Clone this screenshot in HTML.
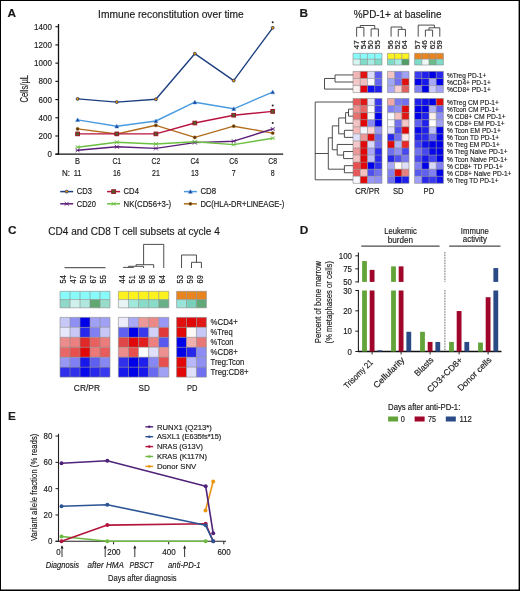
<!DOCTYPE html>
<html><head><meta charset="utf-8"><style>
html,body{margin:0;padding:0;background:#fff;}
svg{display:block;will-change:transform;}
text{font-family:"Liberation Sans",sans-serif;fill:#1a1a1a;stroke:#1a1a1a;stroke-width:0.16px;}
</style></head><body>
<svg width="520" height="591" viewBox="0 0 520 591">
<rect x="0" y="0" width="520" height="591" fill="#fff"/>
<text x="7.60" y="17.40" font-size="11.8" font-weight="bold" fill="#000">A</text>
<text x="299.60" y="17.40" font-size="11.8" font-weight="bold" fill="#000">B</text>
<text x="8.00" y="234.20" font-size="11.8" font-weight="bold" fill="#000">C</text>
<text x="299.80" y="234.20" font-size="11.8" font-weight="bold" fill="#000">D</text>
<text x="7.90" y="420.00" font-size="11.8" font-weight="bold" fill="#000">E</text>
<line x1="58.50" y1="24.00" x2="58.50" y2="154.80" stroke="#111" stroke-width="1.3" />
<line x1="55.40" y1="154.20" x2="283.20" y2="154.20" stroke="#111" stroke-width="1.3" />
<line x1="55.40" y1="154.20" x2="58.50" y2="154.20" stroke="#111" stroke-width="1.1" />
<text x="51.90" y="157.30" font-size="9.2" text-anchor="end" textLength="4.45" lengthAdjust="spacingAndGlyphs">0</text>
<line x1="55.40" y1="135.99" x2="58.50" y2="135.99" stroke="#111" stroke-width="1.1" />
<text x="51.90" y="139.09" font-size="9.2" text-anchor="end" textLength="13.35" lengthAdjust="spacingAndGlyphs">200</text>
<line x1="55.40" y1="117.77" x2="58.50" y2="117.77" stroke="#111" stroke-width="1.1" />
<text x="51.90" y="120.87" font-size="9.2" text-anchor="end" textLength="13.35" lengthAdjust="spacingAndGlyphs">400</text>
<line x1="55.40" y1="99.56" x2="58.50" y2="99.56" stroke="#111" stroke-width="1.1" />
<text x="51.90" y="102.66" font-size="9.2" text-anchor="end" textLength="13.35" lengthAdjust="spacingAndGlyphs">600</text>
<line x1="55.40" y1="81.34" x2="58.50" y2="81.34" stroke="#111" stroke-width="1.1" />
<text x="51.90" y="84.44" font-size="9.2" text-anchor="end" textLength="13.35" lengthAdjust="spacingAndGlyphs">800</text>
<line x1="55.40" y1="63.13" x2="58.50" y2="63.13" stroke="#111" stroke-width="1.1" />
<text x="51.90" y="66.23" font-size="9.2" text-anchor="end" textLength="17.80" lengthAdjust="spacingAndGlyphs">1000</text>
<line x1="55.40" y1="44.92" x2="58.50" y2="44.92" stroke="#111" stroke-width="1.1" />
<text x="51.90" y="48.02" font-size="9.2" text-anchor="end" textLength="17.80" lengthAdjust="spacingAndGlyphs">1200</text>
<line x1="55.40" y1="26.70" x2="58.50" y2="26.70" stroke="#111" stroke-width="1.1" />
<text x="51.90" y="29.80" font-size="9.2" text-anchor="end" textLength="17.80" lengthAdjust="spacingAndGlyphs">1400</text>
<text x="77.60" y="164.30" font-size="8.8" text-anchor="middle" textLength="5.00" lengthAdjust="spacingAndGlyphs">B</text>
<text x="77.60" y="175.90" font-size="8.8" text-anchor="middle" textLength="7.80" lengthAdjust="spacingAndGlyphs">11</text>
<text x="116.80" y="164.30" font-size="8.8" text-anchor="middle" textLength="8.80" lengthAdjust="spacingAndGlyphs">C1</text>
<text x="116.80" y="175.90" font-size="8.8" text-anchor="middle" textLength="7.80" lengthAdjust="spacingAndGlyphs">16</text>
<text x="155.90" y="164.30" font-size="8.8" text-anchor="middle" textLength="8.80" lengthAdjust="spacingAndGlyphs">C2</text>
<text x="155.90" y="175.90" font-size="8.8" text-anchor="middle" textLength="7.80" lengthAdjust="spacingAndGlyphs">21</text>
<text x="194.80" y="164.30" font-size="8.8" text-anchor="middle" textLength="8.80" lengthAdjust="spacingAndGlyphs">C4</text>
<text x="194.80" y="175.90" font-size="8.8" text-anchor="middle" textLength="7.80" lengthAdjust="spacingAndGlyphs">13</text>
<text x="233.70" y="164.30" font-size="8.8" text-anchor="middle" textLength="8.80" lengthAdjust="spacingAndGlyphs">C6</text>
<text x="233.70" y="175.90" font-size="8.8" text-anchor="middle" textLength="3.90" lengthAdjust="spacingAndGlyphs">7</text>
<text x="272.70" y="164.30" font-size="8.8" text-anchor="middle" textLength="8.80" lengthAdjust="spacingAndGlyphs">C8</text>
<text x="272.70" y="175.90" font-size="8.8" text-anchor="middle" textLength="3.90" lengthAdjust="spacingAndGlyphs">8</text>
<text x="62.00" y="175.90" font-size="8.8" textLength="8.00" lengthAdjust="spacingAndGlyphs">N:</text>
<text x="98.10" y="17.80" font-size="10.4" textLength="145.70" lengthAdjust="spacingAndGlyphs">Immune reconstitution over time</text>
<text x="28.20" y="102.60" font-size="10.2" textLength="27.60" lengthAdjust="spacingAndGlyphs" transform="rotate(-90 28.20 102.60)">Cells/µL</text>
<polyline points="77.60,128.90 116.80,134.00 155.90,125.30 194.80,137.40 233.70,126.20 272.70,133.10" fill="none" stroke="#b26e1e" stroke-width="1.4" stroke-linejoin="round" />
<polyline points="77.60,150.30 116.80,146.80 155.90,148.40 194.80,142.60 233.70,141.20 272.70,129.00" fill="none" stroke="#5a1e78" stroke-width="1.4" stroke-linejoin="round" />
<polyline points="77.60,147.20 116.80,142.20 155.90,144.00 194.80,141.70 233.70,144.60 272.70,138.30" fill="none" stroke="#6cbf40" stroke-width="1.4" stroke-linejoin="round" />
<polyline points="77.60,133.90 116.80,133.90 155.90,133.90 194.80,123.00 233.70,115.20 272.70,111.40" fill="none" stroke="#b8143f" stroke-width="1.4" stroke-linejoin="round" />
<polyline points="77.60,119.90 116.80,126.30 155.90,121.00 194.80,102.20 233.70,108.80 272.70,92.10" fill="none" stroke="#4a9ae0" stroke-width="1.4" stroke-linejoin="round" />
<polyline points="77.60,98.90 116.80,102.10 155.90,99.30 194.80,53.70 233.70,80.60 272.70,27.80" fill="none" stroke="#1e3f7f" stroke-width="1.4" stroke-linejoin="round" />
<circle cx="77.60" cy="128.90" r="1.6" fill="#5a3508" stroke="#a86a1e" stroke-width="0.5"/>
<circle cx="116.80" cy="134.00" r="1.6" fill="#5a3508" stroke="#a86a1e" stroke-width="0.5"/>
<circle cx="155.90" cy="125.30" r="1.6" fill="#5a3508" stroke="#a86a1e" stroke-width="0.5"/>
<circle cx="194.80" cy="137.40" r="1.6" fill="#5a3508" stroke="#a86a1e" stroke-width="0.5"/>
<circle cx="233.70" cy="126.20" r="1.6" fill="#5a3508" stroke="#a86a1e" stroke-width="0.5"/>
<circle cx="272.70" cy="133.10" r="1.6" fill="#5a3508" stroke="#a86a1e" stroke-width="0.5"/>
<path d="M75.60,148.30 L79.60,152.30 M75.60,152.30 L79.60,148.30 M75.60,150.30 L79.60,150.30" stroke="#5a1e78" stroke-width="0.8" fill="none"/>
<path d="M114.80,144.80 L118.80,148.80 M114.80,148.80 L118.80,144.80 M114.80,146.80 L118.80,146.80" stroke="#5a1e78" stroke-width="0.8" fill="none"/>
<path d="M153.90,146.40 L157.90,150.40 M153.90,150.40 L157.90,146.40 M153.90,148.40 L157.90,148.40" stroke="#5a1e78" stroke-width="0.8" fill="none"/>
<path d="M192.80,140.60 L196.80,144.60 M192.80,144.60 L196.80,140.60 M192.80,142.60 L196.80,142.60" stroke="#5a1e78" stroke-width="0.8" fill="none"/>
<path d="M231.70,139.20 L235.70,143.20 M231.70,143.20 L235.70,139.20 M231.70,141.20 L235.70,141.20" stroke="#5a1e78" stroke-width="0.8" fill="none"/>
<path d="M270.70,127.00 L274.70,131.00 M270.70,131.00 L274.70,127.00 M270.70,129.00 L274.70,129.00" stroke="#5a1e78" stroke-width="0.8" fill="none"/>
<path d="M75.60,145.20 L79.60,149.20 M75.60,149.20 L79.60,145.20 M75.60,147.20 L79.60,147.20" stroke="#6cbf40" stroke-width="0.8" fill="none"/>
<path d="M114.80,140.20 L118.80,144.20 M114.80,144.20 L118.80,140.20 M114.80,142.20 L118.80,142.20" stroke="#6cbf40" stroke-width="0.8" fill="none"/>
<path d="M153.90,142.00 L157.90,146.00 M153.90,146.00 L157.90,142.00 M153.90,144.00 L157.90,144.00" stroke="#6cbf40" stroke-width="0.8" fill="none"/>
<path d="M192.80,139.70 L196.80,143.70 M192.80,143.70 L196.80,139.70 M192.80,141.70 L196.80,141.70" stroke="#6cbf40" stroke-width="0.8" fill="none"/>
<path d="M231.70,142.60 L235.70,146.60 M231.70,146.60 L235.70,142.60 M231.70,144.60 L235.70,144.60" stroke="#6cbf40" stroke-width="0.8" fill="none"/>
<path d="M270.70,136.30 L274.70,140.30 M270.70,140.30 L274.70,136.30 M270.70,138.30 L274.70,138.30" stroke="#6cbf40" stroke-width="0.8" fill="none"/>
<rect x="75.70" y="132.05" width="3.80" height="3.70" fill="#4f5f26" stroke="#9c0a26" stroke-width="0.9"/>
<rect x="114.90" y="132.05" width="3.80" height="3.70" fill="#4f5f26" stroke="#9c0a26" stroke-width="0.9"/>
<rect x="154.00" y="132.05" width="3.80" height="3.70" fill="#4f5f26" stroke="#9c0a26" stroke-width="0.9"/>
<rect x="192.90" y="121.15" width="3.80" height="3.70" fill="#4f5f26" stroke="#9c0a26" stroke-width="0.9"/>
<rect x="231.80" y="113.35" width="3.80" height="3.70" fill="#4f5f26" stroke="#9c0a26" stroke-width="0.9"/>
<rect x="270.80" y="109.55" width="3.80" height="3.70" fill="#4f5f26" stroke="#9c0a26" stroke-width="0.9"/>
<path d="M75.60,121.60 L77.60,117.90 L79.60,121.60Z" fill="#1f3f90" stroke="#3d8fe0" stroke-width="0.5"/>
<path d="M114.80,128.00 L116.80,124.30 L118.80,128.00Z" fill="#1f3f90" stroke="#3d8fe0" stroke-width="0.5"/>
<path d="M153.90,122.70 L155.90,119.00 L157.90,122.70Z" fill="#1f3f90" stroke="#3d8fe0" stroke-width="0.5"/>
<path d="M192.80,103.90 L194.80,100.20 L196.80,103.90Z" fill="#1f3f90" stroke="#3d8fe0" stroke-width="0.5"/>
<path d="M231.70,110.50 L233.70,106.80 L235.70,110.50Z" fill="#1f3f90" stroke="#3d8fe0" stroke-width="0.5"/>
<path d="M270.70,93.80 L272.70,90.10 L274.70,93.80Z" fill="#1f3f90" stroke="#3d8fe0" stroke-width="0.5"/>
<circle cx="77.60" cy="98.90" r="1.45" fill="#f59b00" stroke="#1e3060" stroke-width="0.8"/>
<circle cx="116.80" cy="102.10" r="1.45" fill="#f59b00" stroke="#1e3060" stroke-width="0.8"/>
<circle cx="155.90" cy="99.30" r="1.45" fill="#f59b00" stroke="#1e3060" stroke-width="0.8"/>
<circle cx="194.80" cy="53.70" r="1.45" fill="#f59b00" stroke="#1e3060" stroke-width="0.8"/>
<circle cx="233.70" cy="80.60" r="1.45" fill="#f59b00" stroke="#1e3060" stroke-width="0.8"/>
<circle cx="272.70" cy="27.80" r="1.45" fill="#f59b00" stroke="#1e3060" stroke-width="0.8"/>
<circle cx="272.7" cy="22.2" r="1.0" fill="#222"/>
<circle cx="272.7" cy="105.5" r="1.0" fill="#222"/>
<circle cx="272.7" cy="122.9" r="1.0" fill="#222"/>
<line x1="60.20" y1="191.60" x2="73.20" y2="191.60" stroke="#1e3f7f" stroke-width="1.5" />
<circle cx="66.70" cy="191.60" r="1.45" fill="#f59b00" stroke="#1e3060" stroke-width="0.8"/>
<text x="76.70" y="194.40" font-size="8.6" textLength="15.20" lengthAdjust="spacingAndGlyphs">CD3</text>
<line x1="107.10" y1="191.60" x2="120.10" y2="191.60" stroke="#b8143f" stroke-width="1.5" />
<rect x="111.70" y="189.75" width="3.80" height="3.70" fill="#4f5f26" stroke="#9c0a26" stroke-width="0.9"/>
<text x="123.60" y="194.40" font-size="8.6" textLength="15.30" lengthAdjust="spacingAndGlyphs">CD4</text>
<line x1="183.90" y1="191.60" x2="196.90" y2="191.60" stroke="#4a9ae0" stroke-width="1.5" />
<path d="M188.40,193.30 L190.40,189.60 L192.40,193.30Z" fill="#1f3f90" stroke="#3d8fe0" stroke-width="0.5"/>
<text x="200.40" y="194.40" font-size="8.6" textLength="15.70" lengthAdjust="spacingAndGlyphs">CD8</text>
<line x1="60.20" y1="203.80" x2="73.20" y2="203.80" stroke="#5a1e78" stroke-width="1.5" />
<path d="M64.70,201.80 L68.70,205.80 M64.70,205.80 L68.70,201.80 M64.70,203.80 L68.70,203.80" stroke="#5a1e78" stroke-width="0.8" fill="none"/>
<text x="76.70" y="206.60" font-size="8.6" textLength="19.30" lengthAdjust="spacingAndGlyphs">CD20</text>
<line x1="107.10" y1="203.80" x2="120.10" y2="203.80" stroke="#6cbf40" stroke-width="1.5" />
<path d="M111.60,201.80 L115.60,205.80 M111.60,205.80 L115.60,201.80 M111.60,203.80 L115.60,203.80" stroke="#6cbf40" stroke-width="0.8" fill="none"/>
<text x="123.60" y="206.60" font-size="8.6" textLength="47.50" lengthAdjust="spacingAndGlyphs">NK(CD56+3-)</text>
<line x1="183.90" y1="203.80" x2="196.90" y2="203.80" stroke="#b26e1e" stroke-width="1.5" />
<circle cx="190.40" cy="203.80" r="1.6" fill="#5a3508" stroke="#a86a1e" stroke-width="0.5"/>
<text x="200.40" y="206.60" font-size="8.6" textLength="84.00" lengthAdjust="spacingAndGlyphs">DC(HLA-DR+LINEAGE-)</text>
<text x="353.80" y="18.10" font-size="10.4" textLength="87.70" lengthAdjust="spacingAndGlyphs">%PD-1+ at baseline</text>
<rect x="353.00" y="53.30" width="7.25" height="5.85" fill="#88fafa"/>
<rect x="360.25" y="53.30" width="7.25" height="5.85" fill="#88fafa"/>
<rect x="367.50" y="53.30" width="7.25" height="5.85" fill="#88fafa"/>
<rect x="374.75" y="53.30" width="7.25" height="5.85" fill="#88fafa"/>
<rect x="353.00" y="59.15" width="7.25" height="5.85" fill="#d8f6f1"/>
<rect x="360.25" y="59.15" width="7.25" height="5.85" fill="#7fdcc8"/>
<rect x="367.50" y="59.15" width="7.25" height="5.85" fill="#a6ece2"/>
<rect x="374.75" y="59.15" width="7.25" height="5.85" fill="#7fdcc8"/>
<line x1="353.00" y1="53.30" x2="382.00" y2="53.30" stroke="#8a8a8a" stroke-width="0.6" />
<line x1="353.00" y1="59.15" x2="382.00" y2="59.15" stroke="#8a8a8a" stroke-width="0.6" />
<line x1="353.00" y1="65.00" x2="382.00" y2="65.00" stroke="#8a8a8a" stroke-width="0.6" />
<line x1="353.00" y1="53.30" x2="353.00" y2="65.00" stroke="#8a8a8a" stroke-width="0.6" />
<line x1="360.25" y1="53.30" x2="360.25" y2="65.00" stroke="#8a8a8a" stroke-width="0.6" />
<line x1="367.50" y1="53.30" x2="367.50" y2="65.00" stroke="#8a8a8a" stroke-width="0.6" />
<line x1="374.75" y1="53.30" x2="374.75" y2="65.00" stroke="#8a8a8a" stroke-width="0.6" />
<line x1="382.00" y1="53.30" x2="382.00" y2="65.00" stroke="#8a8a8a" stroke-width="0.6" />
<rect x="387.50" y="53.30" width="7.17" height="5.85" fill="#fcf21e"/>
<rect x="394.67" y="53.30" width="7.17" height="5.85" fill="#fcf21e"/>
<rect x="401.84" y="53.30" width="7.17" height="5.85" fill="#fcf21e"/>
<rect x="387.50" y="59.15" width="7.17" height="5.85" fill="#7fdcc8"/>
<rect x="394.67" y="59.15" width="7.17" height="5.85" fill="#a6ece2"/>
<rect x="401.84" y="59.15" width="7.17" height="5.85" fill="#4e9f66"/>
<line x1="387.50" y1="53.30" x2="409.01" y2="53.30" stroke="#8a8a8a" stroke-width="0.6" />
<line x1="387.50" y1="59.15" x2="409.01" y2="59.15" stroke="#8a8a8a" stroke-width="0.6" />
<line x1="387.50" y1="65.00" x2="409.01" y2="65.00" stroke="#8a8a8a" stroke-width="0.6" />
<line x1="387.50" y1="53.30" x2="387.50" y2="65.00" stroke="#8a8a8a" stroke-width="0.6" />
<line x1="394.67" y1="53.30" x2="394.67" y2="65.00" stroke="#8a8a8a" stroke-width="0.6" />
<line x1="401.84" y1="53.30" x2="401.84" y2="65.00" stroke="#8a8a8a" stroke-width="0.6" />
<line x1="409.01" y1="53.30" x2="409.01" y2="65.00" stroke="#8a8a8a" stroke-width="0.6" />
<rect x="414.60" y="53.30" width="7.20" height="5.85" fill="#e8841f"/>
<rect x="421.80" y="53.30" width="7.20" height="5.85" fill="#e8841f"/>
<rect x="429.00" y="53.30" width="7.20" height="5.85" fill="#e8841f"/>
<rect x="436.20" y="53.30" width="7.20" height="5.85" fill="#e8841f"/>
<rect x="414.60" y="59.15" width="7.20" height="5.85" fill="#7fdcc8"/>
<rect x="421.80" y="59.15" width="7.20" height="5.85" fill="#eef8f6"/>
<rect x="429.00" y="59.15" width="7.20" height="5.85" fill="#6cb98a"/>
<rect x="436.20" y="59.15" width="7.20" height="5.85" fill="#7fdcc8"/>
<line x1="414.60" y1="53.30" x2="443.40" y2="53.30" stroke="#8a8a8a" stroke-width="0.6" />
<line x1="414.60" y1="59.15" x2="443.40" y2="59.15" stroke="#8a8a8a" stroke-width="0.6" />
<line x1="414.60" y1="65.00" x2="443.40" y2="65.00" stroke="#8a8a8a" stroke-width="0.6" />
<line x1="414.60" y1="53.30" x2="414.60" y2="65.00" stroke="#8a8a8a" stroke-width="0.6" />
<line x1="421.80" y1="53.30" x2="421.80" y2="65.00" stroke="#8a8a8a" stroke-width="0.6" />
<line x1="429.00" y1="53.30" x2="429.00" y2="65.00" stroke="#8a8a8a" stroke-width="0.6" />
<line x1="436.20" y1="53.30" x2="436.20" y2="65.00" stroke="#8a8a8a" stroke-width="0.6" />
<line x1="443.40" y1="53.30" x2="443.40" y2="65.00" stroke="#8a8a8a" stroke-width="0.6" />
<rect x="353.00" y="71.40" width="7.25" height="7.07" fill="#f0b6b6"/>
<rect x="360.25" y="71.40" width="7.25" height="7.07" fill="#e01212"/>
<rect x="367.50" y="71.40" width="7.25" height="7.07" fill="#dcdcf8"/>
<rect x="374.75" y="71.40" width="7.25" height="7.07" fill="#5a5af0"/>
<rect x="353.00" y="78.47" width="7.25" height="7.07" fill="#f4c8c8"/>
<rect x="360.25" y="78.47" width="7.25" height="7.07" fill="#f0c0c0"/>
<rect x="367.50" y="78.47" width="7.25" height="7.07" fill="#f8f8ff"/>
<rect x="374.75" y="78.47" width="7.25" height="7.07" fill="#6464f0"/>
<rect x="353.00" y="85.54" width="7.25" height="7.07" fill="#fcf0f0"/>
<rect x="360.25" y="85.54" width="7.25" height="7.07" fill="#e00010"/>
<rect x="367.50" y="85.54" width="7.25" height="7.07" fill="#1010f0"/>
<rect x="374.75" y="85.54" width="7.25" height="7.07" fill="#2020f0"/>
<line x1="353.00" y1="71.40" x2="382.00" y2="71.40" stroke="#8a8a8a" stroke-width="0.6" />
<line x1="353.00" y1="78.47" x2="382.00" y2="78.47" stroke="#8a8a8a" stroke-width="0.6" />
<line x1="353.00" y1="85.54" x2="382.00" y2="85.54" stroke="#8a8a8a" stroke-width="0.6" />
<line x1="353.00" y1="92.61" x2="382.00" y2="92.61" stroke="#8a8a8a" stroke-width="0.6" />
<line x1="353.00" y1="71.40" x2="353.00" y2="92.61" stroke="#8a8a8a" stroke-width="0.6" />
<line x1="360.25" y1="71.40" x2="360.25" y2="92.61" stroke="#8a8a8a" stroke-width="0.6" />
<line x1="367.50" y1="71.40" x2="367.50" y2="92.61" stroke="#8a8a8a" stroke-width="0.6" />
<line x1="374.75" y1="71.40" x2="374.75" y2="92.61" stroke="#8a8a8a" stroke-width="0.6" />
<line x1="382.00" y1="71.40" x2="382.00" y2="92.61" stroke="#8a8a8a" stroke-width="0.6" />
<rect x="353.00" y="98.50" width="7.25" height="7.07" fill="#e85858"/>
<rect x="360.25" y="98.50" width="7.25" height="7.07" fill="#e01818"/>
<rect x="367.50" y="98.50" width="7.25" height="7.07" fill="#e4e4fa"/>
<rect x="374.75" y="98.50" width="7.25" height="7.07" fill="#3838f0"/>
<rect x="353.00" y="105.57" width="7.25" height="7.07" fill="#ec9090"/>
<rect x="360.25" y="105.57" width="7.25" height="7.07" fill="#e86868"/>
<rect x="367.50" y="105.57" width="7.25" height="7.07" fill="#fafaff"/>
<rect x="374.75" y="105.57" width="7.25" height="7.07" fill="#3030f0"/>
<rect x="353.00" y="112.64" width="7.25" height="7.07" fill="#e87070"/>
<rect x="360.25" y="112.64" width="7.25" height="7.07" fill="#e00808"/>
<rect x="367.50" y="112.64" width="7.25" height="7.07" fill="#f4f4ff"/>
<rect x="374.75" y="112.64" width="7.25" height="7.07" fill="#0000ec"/>
<rect x="353.00" y="119.71" width="7.25" height="7.07" fill="#f4c4c4"/>
<rect x="360.25" y="119.71" width="7.25" height="7.07" fill="#e00808"/>
<rect x="367.50" y="119.71" width="7.25" height="7.07" fill="#8888f4"/>
<rect x="374.75" y="119.71" width="7.25" height="7.07" fill="#0000e8"/>
<rect x="353.00" y="126.78" width="7.25" height="7.07" fill="#f4b8b8"/>
<rect x="360.25" y="126.78" width="7.25" height="7.07" fill="#f4f4ff"/>
<rect x="367.50" y="126.78" width="7.25" height="7.07" fill="#f8d4d4"/>
<rect x="374.75" y="126.78" width="7.25" height="7.07" fill="#9898f4"/>
<rect x="353.00" y="133.85" width="7.25" height="7.07" fill="#e0e0fa"/>
<rect x="360.25" y="133.85" width="7.25" height="7.07" fill="#ec9898"/>
<rect x="367.50" y="133.85" width="7.25" height="7.07" fill="#e00808"/>
<rect x="374.75" y="133.85" width="7.25" height="7.07" fill="#6868f0"/>
<rect x="353.00" y="140.92" width="7.25" height="7.07" fill="#f4c8c8"/>
<rect x="360.25" y="140.92" width="7.25" height="7.07" fill="#e00808"/>
<rect x="367.50" y="140.92" width="7.25" height="7.07" fill="#d8d8fa"/>
<rect x="374.75" y="140.92" width="7.25" height="7.07" fill="#7070f0"/>
<rect x="353.00" y="147.99" width="7.25" height="7.07" fill="#ec9898"/>
<rect x="360.25" y="147.99" width="7.25" height="7.07" fill="#e00808"/>
<rect x="367.50" y="147.99" width="7.25" height="7.07" fill="#a8a8f4"/>
<rect x="374.75" y="147.99" width="7.25" height="7.07" fill="#2828f0"/>
<rect x="353.00" y="155.06" width="7.25" height="7.07" fill="#f4c0c0"/>
<rect x="360.25" y="155.06" width="7.25" height="7.07" fill="#e00808"/>
<rect x="367.50" y="155.06" width="7.25" height="7.07" fill="#c0c0f8"/>
<rect x="374.75" y="155.06" width="7.25" height="7.07" fill="#2828f0"/>
<rect x="353.00" y="162.13" width="7.25" height="7.07" fill="#e85050"/>
<rect x="360.25" y="162.13" width="7.25" height="7.07" fill="#e00808"/>
<rect x="367.50" y="162.13" width="7.25" height="7.07" fill="#0000ec"/>
<rect x="374.75" y="162.13" width="7.25" height="7.07" fill="#3030f0"/>
<rect x="353.00" y="169.20" width="7.25" height="7.07" fill="#e85858"/>
<rect x="360.25" y="169.20" width="7.25" height="7.07" fill="#f4c0c0"/>
<rect x="367.50" y="169.20" width="7.25" height="7.07" fill="#5050f0"/>
<rect x="374.75" y="169.20" width="7.25" height="7.07" fill="#7070f0"/>
<rect x="353.00" y="176.27" width="7.25" height="7.07" fill="#f8f8ff"/>
<rect x="360.25" y="176.27" width="7.25" height="7.07" fill="#e00808"/>
<rect x="367.50" y="176.27" width="7.25" height="7.07" fill="#9898f4"/>
<rect x="374.75" y="176.27" width="7.25" height="7.07" fill="#9090f4"/>
<line x1="353.00" y1="98.50" x2="382.00" y2="98.50" stroke="#8a8a8a" stroke-width="0.6" />
<line x1="353.00" y1="105.57" x2="382.00" y2="105.57" stroke="#8a8a8a" stroke-width="0.6" />
<line x1="353.00" y1="112.64" x2="382.00" y2="112.64" stroke="#8a8a8a" stroke-width="0.6" />
<line x1="353.00" y1="119.71" x2="382.00" y2="119.71" stroke="#8a8a8a" stroke-width="0.6" />
<line x1="353.00" y1="126.78" x2="382.00" y2="126.78" stroke="#8a8a8a" stroke-width="0.6" />
<line x1="353.00" y1="133.85" x2="382.00" y2="133.85" stroke="#8a8a8a" stroke-width="0.6" />
<line x1="353.00" y1="140.92" x2="382.00" y2="140.92" stroke="#8a8a8a" stroke-width="0.6" />
<line x1="353.00" y1="147.99" x2="382.00" y2="147.99" stroke="#8a8a8a" stroke-width="0.6" />
<line x1="353.00" y1="155.06" x2="382.00" y2="155.06" stroke="#8a8a8a" stroke-width="0.6" />
<line x1="353.00" y1="162.13" x2="382.00" y2="162.13" stroke="#8a8a8a" stroke-width="0.6" />
<line x1="353.00" y1="169.20" x2="382.00" y2="169.20" stroke="#8a8a8a" stroke-width="0.6" />
<line x1="353.00" y1="176.27" x2="382.00" y2="176.27" stroke="#8a8a8a" stroke-width="0.6" />
<line x1="353.00" y1="183.34" x2="382.00" y2="183.34" stroke="#8a8a8a" stroke-width="0.6" />
<line x1="353.00" y1="98.50" x2="353.00" y2="183.34" stroke="#8a8a8a" stroke-width="0.6" />
<line x1="360.25" y1="98.50" x2="360.25" y2="183.34" stroke="#8a8a8a" stroke-width="0.6" />
<line x1="367.50" y1="98.50" x2="367.50" y2="183.34" stroke="#8a8a8a" stroke-width="0.6" />
<line x1="374.75" y1="98.50" x2="374.75" y2="183.34" stroke="#8a8a8a" stroke-width="0.6" />
<line x1="382.00" y1="98.50" x2="382.00" y2="183.34" stroke="#8a8a8a" stroke-width="0.6" />
<rect x="387.50" y="71.40" width="7.17" height="7.07" fill="#f4c4c4"/>
<rect x="394.67" y="71.40" width="7.17" height="7.07" fill="#7878f0"/>
<rect x="401.84" y="71.40" width="7.17" height="7.07" fill="#a0a0f4"/>
<rect x="387.50" y="78.47" width="7.17" height="7.07" fill="#a0a8f4"/>
<rect x="394.67" y="78.47" width="7.17" height="7.07" fill="#7070f0"/>
<rect x="401.84" y="78.47" width="7.17" height="7.07" fill="#e01010"/>
<rect x="387.50" y="85.54" width="7.17" height="7.07" fill="#a8a8f4"/>
<rect x="394.67" y="85.54" width="7.17" height="7.07" fill="#f8d0d0"/>
<rect x="401.84" y="85.54" width="7.17" height="7.07" fill="#e06060"/>
<line x1="387.50" y1="71.40" x2="409.01" y2="71.40" stroke="#8a8a8a" stroke-width="0.6" />
<line x1="387.50" y1="78.47" x2="409.01" y2="78.47" stroke="#8a8a8a" stroke-width="0.6" />
<line x1="387.50" y1="85.54" x2="409.01" y2="85.54" stroke="#8a8a8a" stroke-width="0.6" />
<line x1="387.50" y1="92.61" x2="409.01" y2="92.61" stroke="#8a8a8a" stroke-width="0.6" />
<line x1="387.50" y1="71.40" x2="387.50" y2="92.61" stroke="#8a8a8a" stroke-width="0.6" />
<line x1="394.67" y1="71.40" x2="394.67" y2="92.61" stroke="#8a8a8a" stroke-width="0.6" />
<line x1="401.84" y1="71.40" x2="401.84" y2="92.61" stroke="#8a8a8a" stroke-width="0.6" />
<line x1="409.01" y1="71.40" x2="409.01" y2="92.61" stroke="#8a8a8a" stroke-width="0.6" />
<rect x="387.50" y="98.50" width="7.17" height="7.07" fill="#f0a8a8"/>
<rect x="394.67" y="98.50" width="7.17" height="7.07" fill="#7878f0"/>
<rect x="401.84" y="98.50" width="7.17" height="7.07" fill="#7070f0"/>
<rect x="387.50" y="105.57" width="7.17" height="7.07" fill="#8080f4"/>
<rect x="394.67" y="105.57" width="7.17" height="7.07" fill="#9090f4"/>
<rect x="401.84" y="105.57" width="7.17" height="7.07" fill="#e00808"/>
<rect x="387.50" y="112.64" width="7.17" height="7.07" fill="#f8f8ff"/>
<rect x="394.67" y="112.64" width="7.17" height="7.07" fill="#f4c0c0"/>
<rect x="401.84" y="112.64" width="7.17" height="7.07" fill="#e01818"/>
<rect x="387.50" y="119.71" width="7.17" height="7.07" fill="#f8f8ff"/>
<rect x="394.67" y="119.71" width="7.17" height="7.07" fill="#7070f0"/>
<rect x="401.84" y="119.71" width="7.17" height="7.07" fill="#f4c8c8"/>
<rect x="387.50" y="126.78" width="7.17" height="7.07" fill="#e0e0fa"/>
<rect x="394.67" y="126.78" width="7.17" height="7.07" fill="#5050f0"/>
<rect x="401.84" y="126.78" width="7.17" height="7.07" fill="#e00808"/>
<rect x="387.50" y="133.85" width="7.17" height="7.07" fill="#2828ec"/>
<rect x="394.67" y="133.85" width="7.17" height="7.07" fill="#7070f0"/>
<rect x="401.84" y="133.85" width="7.17" height="7.07" fill="#fce8e8"/>
<rect x="387.50" y="140.92" width="7.17" height="7.07" fill="#e00808"/>
<rect x="394.67" y="140.92" width="7.17" height="7.07" fill="#b0b8f8"/>
<rect x="401.84" y="140.92" width="7.17" height="7.07" fill="#e82828"/>
<rect x="387.50" y="147.99" width="7.17" height="7.07" fill="#7070f0"/>
<rect x="394.67" y="147.99" width="7.17" height="7.07" fill="#9090f4"/>
<rect x="401.84" y="147.99" width="7.17" height="7.07" fill="#4848f0"/>
<rect x="387.50" y="155.06" width="7.17" height="7.07" fill="#2828ec"/>
<rect x="394.67" y="155.06" width="7.17" height="7.07" fill="#5050f0"/>
<rect x="401.84" y="155.06" width="7.17" height="7.07" fill="#7878f0"/>
<rect x="387.50" y="162.13" width="7.17" height="7.07" fill="#a8a8f8"/>
<rect x="394.67" y="162.13" width="7.17" height="7.07" fill="#fffff8"/>
<rect x="401.84" y="162.13" width="7.17" height="7.07" fill="#e0e0fa"/>
<rect x="387.50" y="169.20" width="7.17" height="7.07" fill="#8080f4"/>
<rect x="394.67" y="169.20" width="7.17" height="7.07" fill="#e00808"/>
<rect x="401.84" y="169.20" width="7.17" height="7.07" fill="#e88080"/>
<rect x="387.50" y="176.27" width="7.17" height="7.07" fill="#7070f0"/>
<rect x="394.67" y="176.27" width="7.17" height="7.07" fill="#0000ec"/>
<rect x="401.84" y="176.27" width="7.17" height="7.07" fill="#2020ec"/>
<line x1="387.50" y1="98.50" x2="409.01" y2="98.50" stroke="#8a8a8a" stroke-width="0.6" />
<line x1="387.50" y1="105.57" x2="409.01" y2="105.57" stroke="#8a8a8a" stroke-width="0.6" />
<line x1="387.50" y1="112.64" x2="409.01" y2="112.64" stroke="#8a8a8a" stroke-width="0.6" />
<line x1="387.50" y1="119.71" x2="409.01" y2="119.71" stroke="#8a8a8a" stroke-width="0.6" />
<line x1="387.50" y1="126.78" x2="409.01" y2="126.78" stroke="#8a8a8a" stroke-width="0.6" />
<line x1="387.50" y1="133.85" x2="409.01" y2="133.85" stroke="#8a8a8a" stroke-width="0.6" />
<line x1="387.50" y1="140.92" x2="409.01" y2="140.92" stroke="#8a8a8a" stroke-width="0.6" />
<line x1="387.50" y1="147.99" x2="409.01" y2="147.99" stroke="#8a8a8a" stroke-width="0.6" />
<line x1="387.50" y1="155.06" x2="409.01" y2="155.06" stroke="#8a8a8a" stroke-width="0.6" />
<line x1="387.50" y1="162.13" x2="409.01" y2="162.13" stroke="#8a8a8a" stroke-width="0.6" />
<line x1="387.50" y1="169.20" x2="409.01" y2="169.20" stroke="#8a8a8a" stroke-width="0.6" />
<line x1="387.50" y1="176.27" x2="409.01" y2="176.27" stroke="#8a8a8a" stroke-width="0.6" />
<line x1="387.50" y1="183.34" x2="409.01" y2="183.34" stroke="#8a8a8a" stroke-width="0.6" />
<line x1="387.50" y1="98.50" x2="387.50" y2="183.34" stroke="#8a8a8a" stroke-width="0.6" />
<line x1="394.67" y1="98.50" x2="394.67" y2="183.34" stroke="#8a8a8a" stroke-width="0.6" />
<line x1="401.84" y1="98.50" x2="401.84" y2="183.34" stroke="#8a8a8a" stroke-width="0.6" />
<line x1="409.01" y1="98.50" x2="409.01" y2="183.34" stroke="#8a8a8a" stroke-width="0.6" />
<rect x="414.60" y="71.40" width="7.20" height="7.07" fill="#3c3cf0"/>
<rect x="421.80" y="71.40" width="7.20" height="7.07" fill="#2020ee"/>
<rect x="429.00" y="71.40" width="7.20" height="7.07" fill="#0000e0"/>
<rect x="436.20" y="71.40" width="7.20" height="7.07" fill="#2828f0"/>
<rect x="414.60" y="78.47" width="7.20" height="7.07" fill="#0000e8"/>
<rect x="421.80" y="78.47" width="7.20" height="7.07" fill="#1818ee"/>
<rect x="429.00" y="78.47" width="7.20" height="7.07" fill="#a8a8f8"/>
<rect x="436.20" y="78.47" width="7.20" height="7.07" fill="#0000e8"/>
<rect x="414.60" y="85.54" width="7.20" height="7.07" fill="#8080f4"/>
<rect x="421.80" y="85.54" width="7.20" height="7.07" fill="#0000e8"/>
<rect x="429.00" y="85.54" width="7.20" height="7.07" fill="#c8c8fa"/>
<rect x="436.20" y="85.54" width="7.20" height="7.07" fill="#a0a0f8"/>
<line x1="414.60" y1="71.40" x2="443.40" y2="71.40" stroke="#8a8a8a" stroke-width="0.6" />
<line x1="414.60" y1="78.47" x2="443.40" y2="78.47" stroke="#8a8a8a" stroke-width="0.6" />
<line x1="414.60" y1="85.54" x2="443.40" y2="85.54" stroke="#8a8a8a" stroke-width="0.6" />
<line x1="414.60" y1="92.61" x2="443.40" y2="92.61" stroke="#8a8a8a" stroke-width="0.6" />
<line x1="414.60" y1="71.40" x2="414.60" y2="92.61" stroke="#8a8a8a" stroke-width="0.6" />
<line x1="421.80" y1="71.40" x2="421.80" y2="92.61" stroke="#8a8a8a" stroke-width="0.6" />
<line x1="429.00" y1="71.40" x2="429.00" y2="92.61" stroke="#8a8a8a" stroke-width="0.6" />
<line x1="436.20" y1="71.40" x2="436.20" y2="92.61" stroke="#8a8a8a" stroke-width="0.6" />
<line x1="443.40" y1="71.40" x2="443.40" y2="92.61" stroke="#8a8a8a" stroke-width="0.6" />
<rect x="414.60" y="98.50" width="7.20" height="7.07" fill="#2020ec"/>
<rect x="421.80" y="98.50" width="7.20" height="7.07" fill="#1010ec"/>
<rect x="429.00" y="98.50" width="7.20" height="7.07" fill="#0000e8"/>
<rect x="436.20" y="98.50" width="7.20" height="7.07" fill="#e00808"/>
<rect x="414.60" y="105.57" width="7.20" height="7.07" fill="#0000e8"/>
<rect x="421.80" y="105.57" width="7.20" height="7.07" fill="#0000e8"/>
<rect x="429.00" y="105.57" width="7.20" height="7.07" fill="#b0b0f8"/>
<rect x="436.20" y="105.57" width="7.20" height="7.07" fill="#6060f0"/>
<rect x="414.60" y="112.64" width="7.20" height="7.07" fill="#0000e8"/>
<rect x="421.80" y="112.64" width="7.20" height="7.07" fill="#2020ec"/>
<rect x="429.00" y="112.64" width="7.20" height="7.07" fill="#fcf0ec"/>
<rect x="436.20" y="112.64" width="7.20" height="7.07" fill="#9090f4"/>
<rect x="414.60" y="119.71" width="7.20" height="7.07" fill="#6060f0"/>
<rect x="421.80" y="119.71" width="7.20" height="7.07" fill="#2020ec"/>
<rect x="429.00" y="119.71" width="7.20" height="7.07" fill="#ffffff"/>
<rect x="436.20" y="119.71" width="7.20" height="7.07" fill="#a0a0f4"/>
<rect x="414.60" y="126.78" width="7.20" height="7.07" fill="#0808ec"/>
<rect x="421.80" y="126.78" width="7.20" height="7.07" fill="#2020ec"/>
<rect x="429.00" y="126.78" width="7.20" height="7.07" fill="#c0c0f8"/>
<rect x="436.20" y="126.78" width="7.20" height="7.07" fill="#0000e8"/>
<rect x="414.60" y="133.85" width="7.20" height="7.07" fill="#2020ec"/>
<rect x="421.80" y="133.85" width="7.20" height="7.07" fill="#2828ec"/>
<rect x="429.00" y="133.85" width="7.20" height="7.07" fill="#6868f0"/>
<rect x="436.20" y="133.85" width="7.20" height="7.07" fill="#0000e8"/>
<rect x="414.60" y="140.92" width="7.20" height="7.07" fill="#4040f0"/>
<rect x="421.80" y="140.92" width="7.20" height="7.07" fill="#1010ec"/>
<rect x="429.00" y="140.92" width="7.20" height="7.07" fill="#0000e8"/>
<rect x="436.20" y="140.92" width="7.20" height="7.07" fill="#0000e8"/>
<rect x="414.60" y="147.99" width="7.20" height="7.07" fill="#7070f0"/>
<rect x="421.80" y="147.99" width="7.20" height="7.07" fill="#4848f0"/>
<rect x="429.00" y="147.99" width="7.20" height="7.07" fill="#0808e8"/>
<rect x="436.20" y="147.99" width="7.20" height="7.07" fill="#0000e8"/>
<rect x="414.60" y="155.06" width="7.20" height="7.07" fill="#4848f0"/>
<rect x="421.80" y="155.06" width="7.20" height="7.07" fill="#1818ec"/>
<rect x="429.00" y="155.06" width="7.20" height="7.07" fill="#4040f0"/>
<rect x="436.20" y="155.06" width="7.20" height="7.07" fill="#0000e8"/>
<rect x="414.60" y="162.13" width="7.20" height="7.07" fill="#8080f4"/>
<rect x="421.80" y="162.13" width="7.20" height="7.07" fill="#0000e8"/>
<rect x="429.00" y="162.13" width="7.20" height="7.07" fill="#d8d8fa"/>
<rect x="436.20" y="162.13" width="7.20" height="7.07" fill="#8080f4"/>
<rect x="414.60" y="169.20" width="7.20" height="7.07" fill="#5858f0"/>
<rect x="421.80" y="169.20" width="7.20" height="7.07" fill="#6060f0"/>
<rect x="429.00" y="169.20" width="7.20" height="7.07" fill="#8080f4"/>
<rect x="436.20" y="169.20" width="7.20" height="7.07" fill="#0000e8"/>
<rect x="414.60" y="176.27" width="7.20" height="7.07" fill="#a0a0f8"/>
<rect x="421.80" y="176.27" width="7.20" height="7.07" fill="#2828ec"/>
<rect x="429.00" y="176.27" width="7.20" height="7.07" fill="#3838f0"/>
<rect x="436.20" y="176.27" width="7.20" height="7.07" fill="#1010ec"/>
<line x1="414.60" y1="98.50" x2="443.40" y2="98.50" stroke="#8a8a8a" stroke-width="0.6" />
<line x1="414.60" y1="105.57" x2="443.40" y2="105.57" stroke="#8a8a8a" stroke-width="0.6" />
<line x1="414.60" y1="112.64" x2="443.40" y2="112.64" stroke="#8a8a8a" stroke-width="0.6" />
<line x1="414.60" y1="119.71" x2="443.40" y2="119.71" stroke="#8a8a8a" stroke-width="0.6" />
<line x1="414.60" y1="126.78" x2="443.40" y2="126.78" stroke="#8a8a8a" stroke-width="0.6" />
<line x1="414.60" y1="133.85" x2="443.40" y2="133.85" stroke="#8a8a8a" stroke-width="0.6" />
<line x1="414.60" y1="140.92" x2="443.40" y2="140.92" stroke="#8a8a8a" stroke-width="0.6" />
<line x1="414.60" y1="147.99" x2="443.40" y2="147.99" stroke="#8a8a8a" stroke-width="0.6" />
<line x1="414.60" y1="155.06" x2="443.40" y2="155.06" stroke="#8a8a8a" stroke-width="0.6" />
<line x1="414.60" y1="162.13" x2="443.40" y2="162.13" stroke="#8a8a8a" stroke-width="0.6" />
<line x1="414.60" y1="169.20" x2="443.40" y2="169.20" stroke="#8a8a8a" stroke-width="0.6" />
<line x1="414.60" y1="176.27" x2="443.40" y2="176.27" stroke="#8a8a8a" stroke-width="0.6" />
<line x1="414.60" y1="183.34" x2="443.40" y2="183.34" stroke="#8a8a8a" stroke-width="0.6" />
<line x1="414.60" y1="98.50" x2="414.60" y2="183.34" stroke="#8a8a8a" stroke-width="0.6" />
<line x1="421.80" y1="98.50" x2="421.80" y2="183.34" stroke="#8a8a8a" stroke-width="0.6" />
<line x1="429.00" y1="98.50" x2="429.00" y2="183.34" stroke="#8a8a8a" stroke-width="0.6" />
<line x1="436.20" y1="98.50" x2="436.20" y2="183.34" stroke="#8a8a8a" stroke-width="0.6" />
<line x1="443.40" y1="98.50" x2="443.40" y2="183.34" stroke="#8a8a8a" stroke-width="0.6" />
<text x="358.62" y="49.30" font-size="8.0" textLength="9.00" lengthAdjust="spacingAndGlyphs" transform="rotate(-90 358.62 49.30)">47</text>
<text x="365.88" y="49.30" font-size="8.0" textLength="9.00" lengthAdjust="spacingAndGlyphs" transform="rotate(-90 365.88 49.30)">54</text>
<text x="373.12" y="49.30" font-size="8.0" textLength="9.00" lengthAdjust="spacingAndGlyphs" transform="rotate(-90 373.12 49.30)">50</text>
<text x="380.38" y="49.30" font-size="8.0" textLength="9.00" lengthAdjust="spacingAndGlyphs" transform="rotate(-90 380.38 49.30)">55</text>
<text x="393.08" y="49.30" font-size="8.0" textLength="9.00" lengthAdjust="spacingAndGlyphs" transform="rotate(-90 393.08 49.30)">56</text>
<text x="400.25" y="49.30" font-size="8.0" textLength="9.00" lengthAdjust="spacingAndGlyphs" transform="rotate(-90 400.25 49.30)">52</text>
<text x="407.43" y="49.30" font-size="8.0" textLength="9.00" lengthAdjust="spacingAndGlyphs" transform="rotate(-90 407.43 49.30)">64</text>
<text x="420.20" y="49.30" font-size="8.0" textLength="9.00" lengthAdjust="spacingAndGlyphs" transform="rotate(-90 420.20 49.30)">57</text>
<text x="427.40" y="49.30" font-size="8.0" textLength="9.00" lengthAdjust="spacingAndGlyphs" transform="rotate(-90 427.40 49.30)">46</text>
<text x="434.60" y="49.30" font-size="8.0" textLength="9.00" lengthAdjust="spacingAndGlyphs" transform="rotate(-90 434.60 49.30)">62</text>
<text x="441.80" y="49.30" font-size="8.0" textLength="9.00" lengthAdjust="spacingAndGlyphs" transform="rotate(-90 441.80 49.30)">59</text>
<path d="M356.62,36.70 V27.40 H363.88 V36.70" fill="none" stroke="#3a3a3a" stroke-width="0.9"/>
<path d="M371.12,36.70 V28.90 H378.38 V36.70" fill="none" stroke="#3a3a3a" stroke-width="0.9"/>
<path d="M360.25,27.40 V25.50 H374.75 V28.90" fill="none" stroke="#3a3a3a" stroke-width="0.9"/>
<path d="M398.25,36.70 V29.40 H405.43 V36.70" fill="none" stroke="#3a3a3a" stroke-width="0.9"/>
<path d="M391.08,36.70 V27.00 H401.84 V29.40" fill="none" stroke="#3a3a3a" stroke-width="0.9"/>
<path d="M425.40,36.70 V30.10 H432.60 V36.70" fill="none" stroke="#3a3a3a" stroke-width="0.9"/>
<path d="M429.00,30.10 V27.80 H439.80 V36.70" fill="none" stroke="#3a3a3a" stroke-width="0.9"/>
<path d="M418.20,36.70 V25.10 H434.40 V27.80" fill="none" stroke="#3a3a3a" stroke-width="0.9"/>
<path d="M353.00,74.94 H335.00 V82.01 H353.00" fill="none" stroke="#3a3a3a" stroke-width="0.9"/>
<path d="M335.00,78.47 H324.50 V89.08 H353.00" fill="none" stroke="#3a3a3a" stroke-width="0.9"/>
<path d="M353.00,109.11 H348.50 V116.17 H353.00" fill="none" stroke="#3a3a3a" stroke-width="0.9"/>
<path d="M348.50,112.64 H345.60 V123.25 H353.00" fill="none" stroke="#3a3a3a" stroke-width="0.9"/>
<path d="M353.00,130.31 H344.40 V137.38 H353.00" fill="none" stroke="#3a3a3a" stroke-width="0.9"/>
<path d="M345.60,117.94 H338.70 V133.85 H344.40" fill="none" stroke="#3a3a3a" stroke-width="0.9"/>
<path d="M353.00,151.53 H343.60 V158.59 H353.00" fill="none" stroke="#3a3a3a" stroke-width="0.9"/>
<path d="M353.00,144.45 H337.20 V155.06 H343.60" fill="none" stroke="#3a3a3a" stroke-width="0.9"/>
<path d="M338.70,125.90 H332.30 V149.76 H337.20" fill="none" stroke="#3a3a3a" stroke-width="0.9"/>
<path d="M353.00,165.67 H344.40 V172.74 H353.00" fill="none" stroke="#3a3a3a" stroke-width="0.9"/>
<path d="M332.30,137.83 H328.30 V169.20 H344.40" fill="none" stroke="#3a3a3a" stroke-width="0.9"/>
<path d="M353.00,102.03 H315.20 V179.81 H353.00" fill="none" stroke="#3a3a3a" stroke-width="0.9"/>
<line x1="315.20" y1="153.51" x2="328.30" y2="153.51" stroke="#3a3a3a" stroke-width="0.9" />
<text x="446.90" y="77.84" font-size="7.6" textLength="39.30" lengthAdjust="spacingAndGlyphs">%Treg PD-1+</text>
<text x="446.90" y="84.91" font-size="7.6" textLength="43.90" lengthAdjust="spacingAndGlyphs">%CD4+ PD-1+</text>
<text x="446.90" y="91.98" font-size="7.6" textLength="43.90" lengthAdjust="spacingAndGlyphs">%CD8+ PD-1+</text>
<text x="446.90" y="104.94" font-size="7.6" textLength="52.00" lengthAdjust="spacingAndGlyphs">%Treg CM PD-1+</text>
<text x="446.90" y="112.01" font-size="7.6" textLength="52.00" lengthAdjust="spacingAndGlyphs">%Tcon CM PD-1+</text>
<text x="446.90" y="119.08" font-size="7.6" textLength="58.90" lengthAdjust="spacingAndGlyphs">% CD8+ CM PD-1+</text>
<text x="446.90" y="126.15" font-size="7.6" textLength="57.70" lengthAdjust="spacingAndGlyphs">% CD8+ EM PD-1+</text>
<text x="446.90" y="133.22" font-size="7.6" textLength="53.90" lengthAdjust="spacingAndGlyphs">% Tcon EM PD-1+</text>
<text x="446.90" y="140.28" font-size="7.6" textLength="52.30" lengthAdjust="spacingAndGlyphs">% Tcon TD PD-1+</text>
<text x="446.90" y="147.35" font-size="7.6" textLength="52.80" lengthAdjust="spacingAndGlyphs">% Treg EM PD-1+</text>
<text x="446.90" y="154.43" font-size="7.6" textLength="60.80" lengthAdjust="spacingAndGlyphs">% Treg Naive PD-1+</text>
<text x="446.90" y="161.50" font-size="7.6" textLength="60.80" lengthAdjust="spacingAndGlyphs">% Tcon Naive PD-1+</text>
<text x="446.90" y="168.57" font-size="7.6" textLength="56.10" lengthAdjust="spacingAndGlyphs">% CD8+ TD PD-1+</text>
<text x="446.90" y="175.64" font-size="7.6" textLength="64.60" lengthAdjust="spacingAndGlyphs">% CD8+ Naive PD-1+</text>
<text x="446.90" y="182.71" font-size="7.6" textLength="51.60" lengthAdjust="spacingAndGlyphs">% Treg TD PD-1+</text>
<text x="355.20" y="193.90" font-size="8.7" textLength="24.40" lengthAdjust="spacingAndGlyphs">CR/PR</text>
<text x="392.90" y="193.90" font-size="8.7" textLength="10.60" lengthAdjust="spacingAndGlyphs">SD</text>
<text x="423.60" y="193.90" font-size="8.7" textLength="10.50" lengthAdjust="spacingAndGlyphs">PD</text>
<text x="48.30" y="234.60" font-size="10.8" textLength="171.50" lengthAdjust="spacingAndGlyphs">CD4 and CD8 T cell subsets at cycle 4</text>
<rect x="60.00" y="291.30" width="10.00" height="8.25" fill="#88fafa"/>
<rect x="70.00" y="291.30" width="10.00" height="8.25" fill="#88fafa"/>
<rect x="80.00" y="291.30" width="10.00" height="8.25" fill="#88fafa"/>
<rect x="90.00" y="291.30" width="10.00" height="8.25" fill="#88fafa"/>
<rect x="100.00" y="291.30" width="10.00" height="8.25" fill="#88fafa"/>
<rect x="60.00" y="299.55" width="10.00" height="8.25" fill="#90d8c8"/>
<rect x="70.00" y="299.55" width="10.00" height="8.25" fill="#d0f0ec"/>
<rect x="80.00" y="299.55" width="10.00" height="8.25" fill="#b0e8e0"/>
<rect x="90.00" y="299.55" width="10.00" height="8.25" fill="#60a870"/>
<rect x="100.00" y="299.55" width="10.00" height="8.25" fill="#98dccc"/>
<line x1="60.00" y1="291.30" x2="110.00" y2="291.30" stroke="#8a8a8a" stroke-width="0.6" />
<line x1="60.00" y1="299.55" x2="110.00" y2="299.55" stroke="#8a8a8a" stroke-width="0.6" />
<line x1="60.00" y1="307.80" x2="110.00" y2="307.80" stroke="#8a8a8a" stroke-width="0.6" />
<line x1="60.00" y1="291.30" x2="60.00" y2="307.80" stroke="#8a8a8a" stroke-width="0.6" />
<line x1="70.00" y1="291.30" x2="70.00" y2="307.80" stroke="#8a8a8a" stroke-width="0.6" />
<line x1="80.00" y1="291.30" x2="80.00" y2="307.80" stroke="#8a8a8a" stroke-width="0.6" />
<line x1="90.00" y1="291.30" x2="90.00" y2="307.80" stroke="#8a8a8a" stroke-width="0.6" />
<line x1="100.00" y1="291.30" x2="100.00" y2="307.80" stroke="#8a8a8a" stroke-width="0.6" />
<line x1="110.00" y1="291.30" x2="110.00" y2="307.80" stroke="#8a8a8a" stroke-width="0.6" />
<rect x="118.40" y="291.30" width="10.08" height="8.25" fill="#fcf21e"/>
<rect x="128.48" y="291.30" width="10.08" height="8.25" fill="#fcf21e"/>
<rect x="138.56" y="291.30" width="10.08" height="8.25" fill="#fcf21e"/>
<rect x="148.64" y="291.30" width="10.08" height="8.25" fill="#fcf21e"/>
<rect x="158.72" y="291.30" width="10.08" height="8.25" fill="#fcf21e"/>
<rect x="118.40" y="299.55" width="10.08" height="8.25" fill="#e8f4f4"/>
<rect x="128.48" y="299.55" width="10.08" height="8.25" fill="#a0e8dc"/>
<rect x="138.56" y="299.55" width="10.08" height="8.25" fill="#88dcc8"/>
<rect x="148.64" y="299.55" width="10.08" height="8.25" fill="#88dcc8"/>
<rect x="158.72" y="299.55" width="10.08" height="8.25" fill="#68b088"/>
<line x1="118.40" y1="291.30" x2="168.80" y2="291.30" stroke="#8a8a8a" stroke-width="0.6" />
<line x1="118.40" y1="299.55" x2="168.80" y2="299.55" stroke="#8a8a8a" stroke-width="0.6" />
<line x1="118.40" y1="307.80" x2="168.80" y2="307.80" stroke="#8a8a8a" stroke-width="0.6" />
<line x1="118.40" y1="291.30" x2="118.40" y2="307.80" stroke="#8a8a8a" stroke-width="0.6" />
<line x1="128.48" y1="291.30" x2="128.48" y2="307.80" stroke="#8a8a8a" stroke-width="0.6" />
<line x1="138.56" y1="291.30" x2="138.56" y2="307.80" stroke="#8a8a8a" stroke-width="0.6" />
<line x1="148.64" y1="291.30" x2="148.64" y2="307.80" stroke="#8a8a8a" stroke-width="0.6" />
<line x1="158.72" y1="291.30" x2="158.72" y2="307.80" stroke="#8a8a8a" stroke-width="0.6" />
<line x1="168.80" y1="291.30" x2="168.80" y2="307.80" stroke="#8a8a8a" stroke-width="0.6" />
<rect x="176.60" y="291.30" width="9.93" height="8.25" fill="#e8841f"/>
<rect x="186.53" y="291.30" width="9.93" height="8.25" fill="#e8841f"/>
<rect x="196.46" y="291.30" width="9.93" height="8.25" fill="#e8841f"/>
<rect x="176.60" y="299.55" width="9.93" height="8.25" fill="#98e4d8"/>
<rect x="186.53" y="299.55" width="9.93" height="8.25" fill="#78d0b8"/>
<rect x="196.46" y="299.55" width="9.93" height="8.25" fill="#60a878"/>
<line x1="176.60" y1="291.30" x2="206.39" y2="291.30" stroke="#8a8a8a" stroke-width="0.6" />
<line x1="176.60" y1="299.55" x2="206.39" y2="299.55" stroke="#8a8a8a" stroke-width="0.6" />
<line x1="176.60" y1="307.80" x2="206.39" y2="307.80" stroke="#8a8a8a" stroke-width="0.6" />
<line x1="176.60" y1="291.30" x2="176.60" y2="307.80" stroke="#8a8a8a" stroke-width="0.6" />
<line x1="186.53" y1="291.30" x2="186.53" y2="307.80" stroke="#8a8a8a" stroke-width="0.6" />
<line x1="196.46" y1="291.30" x2="196.46" y2="307.80" stroke="#8a8a8a" stroke-width="0.6" />
<line x1="206.39" y1="291.30" x2="206.39" y2="307.80" stroke="#8a8a8a" stroke-width="0.6" />
<rect x="60.00" y="317.40" width="10.00" height="9.95" fill="#c8c8f8"/>
<rect x="70.00" y="317.40" width="10.00" height="9.95" fill="#9090f4"/>
<rect x="80.00" y="317.40" width="10.00" height="9.95" fill="#0000e8"/>
<rect x="90.00" y="317.40" width="10.00" height="9.95" fill="#a0a0f4"/>
<rect x="100.00" y="317.40" width="10.00" height="9.95" fill="#a0a0f4"/>
<rect x="60.00" y="327.35" width="10.00" height="9.95" fill="#e8e8fc"/>
<rect x="70.00" y="327.35" width="10.00" height="9.95" fill="#c8c8f8"/>
<rect x="80.00" y="327.35" width="10.00" height="9.95" fill="#2828ec"/>
<rect x="90.00" y="327.35" width="10.00" height="9.95" fill="#8080f4"/>
<rect x="100.00" y="327.35" width="10.00" height="9.95" fill="#c8c8f8"/>
<rect x="60.00" y="337.30" width="10.00" height="9.95" fill="#ec8c8c"/>
<rect x="70.00" y="337.30" width="10.00" height="9.95" fill="#ec8080"/>
<rect x="80.00" y="337.30" width="10.00" height="9.95" fill="#e02828"/>
<rect x="90.00" y="337.30" width="10.00" height="9.95" fill="#e86060"/>
<rect x="100.00" y="337.30" width="10.00" height="9.95" fill="#ec7c7c"/>
<rect x="60.00" y="347.25" width="10.00" height="9.95" fill="#e86868"/>
<rect x="70.00" y="347.25" width="10.00" height="9.95" fill="#e85050"/>
<rect x="80.00" y="347.25" width="10.00" height="9.95" fill="#e00808"/>
<rect x="90.00" y="347.25" width="10.00" height="9.95" fill="#ec7878"/>
<rect x="100.00" y="347.25" width="10.00" height="9.95" fill="#e85c5c"/>
<rect x="60.00" y="357.20" width="10.00" height="9.95" fill="#9898f4"/>
<rect x="70.00" y="357.20" width="10.00" height="9.95" fill="#8080f4"/>
<rect x="80.00" y="357.20" width="10.00" height="9.95" fill="#1818ec"/>
<rect x="90.00" y="357.20" width="10.00" height="9.95" fill="#6060f0"/>
<rect x="100.00" y="357.20" width="10.00" height="9.95" fill="#8888f4"/>
<rect x="60.00" y="367.15" width="10.00" height="9.95" fill="#3030ec"/>
<rect x="70.00" y="367.15" width="10.00" height="9.95" fill="#3030ec"/>
<rect x="80.00" y="367.15" width="10.00" height="9.95" fill="#0808ec"/>
<rect x="90.00" y="367.15" width="10.00" height="9.95" fill="#2828ec"/>
<rect x="100.00" y="367.15" width="10.00" height="9.95" fill="#3838f0"/>
<line x1="60.00" y1="317.40" x2="110.00" y2="317.40" stroke="#8a8a8a" stroke-width="0.6" />
<line x1="60.00" y1="327.35" x2="110.00" y2="327.35" stroke="#8a8a8a" stroke-width="0.6" />
<line x1="60.00" y1="337.30" x2="110.00" y2="337.30" stroke="#8a8a8a" stroke-width="0.6" />
<line x1="60.00" y1="347.25" x2="110.00" y2="347.25" stroke="#8a8a8a" stroke-width="0.6" />
<line x1="60.00" y1="357.20" x2="110.00" y2="357.20" stroke="#8a8a8a" stroke-width="0.6" />
<line x1="60.00" y1="367.15" x2="110.00" y2="367.15" stroke="#8a8a8a" stroke-width="0.6" />
<line x1="60.00" y1="377.10" x2="110.00" y2="377.10" stroke="#8a8a8a" stroke-width="0.6" />
<line x1="60.00" y1="317.40" x2="60.00" y2="377.10" stroke="#8a8a8a" stroke-width="0.6" />
<line x1="70.00" y1="317.40" x2="70.00" y2="377.10" stroke="#8a8a8a" stroke-width="0.6" />
<line x1="80.00" y1="317.40" x2="80.00" y2="377.10" stroke="#8a8a8a" stroke-width="0.6" />
<line x1="90.00" y1="317.40" x2="90.00" y2="377.10" stroke="#8a8a8a" stroke-width="0.6" />
<line x1="100.00" y1="317.40" x2="100.00" y2="377.10" stroke="#8a8a8a" stroke-width="0.6" />
<line x1="110.00" y1="317.40" x2="110.00" y2="377.10" stroke="#8a8a8a" stroke-width="0.6" />
<rect x="118.40" y="317.40" width="10.08" height="9.95" fill="#ececfc"/>
<rect x="128.48" y="317.40" width="10.08" height="9.95" fill="#a8a8f4"/>
<rect x="138.56" y="317.40" width="10.08" height="9.95" fill="#ec9898"/>
<rect x="148.64" y="317.40" width="10.08" height="9.95" fill="#ec8888"/>
<rect x="158.72" y="317.40" width="10.08" height="9.95" fill="#9898f4"/>
<rect x="118.40" y="327.35" width="10.08" height="9.95" fill="#6060f0"/>
<rect x="128.48" y="327.35" width="10.08" height="9.95" fill="#0000e8"/>
<rect x="138.56" y="327.35" width="10.08" height="9.95" fill="#3838ec"/>
<rect x="148.64" y="327.35" width="10.08" height="9.95" fill="#d0d0f8"/>
<rect x="158.72" y="327.35" width="10.08" height="9.95" fill="#e03838"/>
<rect x="118.40" y="337.30" width="10.08" height="9.95" fill="#e04848"/>
<rect x="128.48" y="337.30" width="10.08" height="9.95" fill="#e00808"/>
<rect x="138.56" y="337.30" width="10.08" height="9.95" fill="#e02020"/>
<rect x="148.64" y="337.30" width="10.08" height="9.95" fill="#ec8080"/>
<rect x="158.72" y="337.30" width="10.08" height="9.95" fill="#5858f0"/>
<rect x="118.40" y="347.25" width="10.08" height="9.95" fill="#ec8c8c"/>
<rect x="128.48" y="347.25" width="10.08" height="9.95" fill="#e85050"/>
<rect x="138.56" y="347.25" width="10.08" height="9.95" fill="#ffffff"/>
<rect x="148.64" y="347.25" width="10.08" height="9.95" fill="#e0e0fa"/>
<rect x="158.72" y="347.25" width="10.08" height="9.95" fill="#ec9090"/>
<rect x="118.40" y="357.20" width="10.08" height="9.95" fill="#3030ec"/>
<rect x="128.48" y="357.20" width="10.08" height="9.95" fill="#0000e8"/>
<rect x="138.56" y="357.20" width="10.08" height="9.95" fill="#2020ec"/>
<rect x="148.64" y="357.20" width="10.08" height="9.95" fill="#8888f4"/>
<rect x="158.72" y="357.20" width="10.08" height="9.95" fill="#e85050"/>
<rect x="118.40" y="367.15" width="10.08" height="9.95" fill="#1818ec"/>
<rect x="128.48" y="367.15" width="10.08" height="9.95" fill="#0000e8"/>
<rect x="138.56" y="367.15" width="10.08" height="9.95" fill="#1818ec"/>
<rect x="148.64" y="367.15" width="10.08" height="9.95" fill="#6868f0"/>
<rect x="158.72" y="367.15" width="10.08" height="9.95" fill="#a0a0f4"/>
<line x1="118.40" y1="317.40" x2="168.80" y2="317.40" stroke="#8a8a8a" stroke-width="0.6" />
<line x1="118.40" y1="327.35" x2="168.80" y2="327.35" stroke="#8a8a8a" stroke-width="0.6" />
<line x1="118.40" y1="337.30" x2="168.80" y2="337.30" stroke="#8a8a8a" stroke-width="0.6" />
<line x1="118.40" y1="347.25" x2="168.80" y2="347.25" stroke="#8a8a8a" stroke-width="0.6" />
<line x1="118.40" y1="357.20" x2="168.80" y2="357.20" stroke="#8a8a8a" stroke-width="0.6" />
<line x1="118.40" y1="367.15" x2="168.80" y2="367.15" stroke="#8a8a8a" stroke-width="0.6" />
<line x1="118.40" y1="377.10" x2="168.80" y2="377.10" stroke="#8a8a8a" stroke-width="0.6" />
<line x1="118.40" y1="317.40" x2="118.40" y2="377.10" stroke="#8a8a8a" stroke-width="0.6" />
<line x1="128.48" y1="317.40" x2="128.48" y2="377.10" stroke="#8a8a8a" stroke-width="0.6" />
<line x1="138.56" y1="317.40" x2="138.56" y2="377.10" stroke="#8a8a8a" stroke-width="0.6" />
<line x1="148.64" y1="317.40" x2="148.64" y2="377.10" stroke="#8a8a8a" stroke-width="0.6" />
<line x1="158.72" y1="317.40" x2="158.72" y2="377.10" stroke="#8a8a8a" stroke-width="0.6" />
<line x1="168.80" y1="317.40" x2="168.80" y2="377.10" stroke="#8a8a8a" stroke-width="0.6" />
<rect x="176.60" y="317.40" width="9.93" height="9.95" fill="#e01010"/>
<rect x="186.53" y="317.40" width="9.93" height="9.95" fill="#e00808"/>
<rect x="196.46" y="317.40" width="9.93" height="9.95" fill="#e01818"/>
<rect x="176.60" y="327.35" width="9.93" height="9.95" fill="#e00808"/>
<rect x="186.53" y="327.35" width="9.93" height="9.95" fill="#fcf8f8"/>
<rect x="196.46" y="327.35" width="9.93" height="9.95" fill="#c8c8f8"/>
<rect x="176.60" y="337.30" width="9.93" height="9.95" fill="#0000e8"/>
<rect x="186.53" y="337.30" width="9.93" height="9.95" fill="#f0b0b0"/>
<rect x="196.46" y="337.30" width="9.93" height="9.95" fill="#e87878"/>
<rect x="176.60" y="347.25" width="9.93" height="9.95" fill="#0000e8"/>
<rect x="186.53" y="347.25" width="9.93" height="9.95" fill="#2828ec"/>
<rect x="196.46" y="347.25" width="9.93" height="9.95" fill="#8c8cf4"/>
<rect x="176.60" y="357.20" width="9.93" height="9.95" fill="#e00808"/>
<rect x="186.53" y="357.20" width="9.93" height="9.95" fill="#b8b8f8"/>
<rect x="196.46" y="357.20" width="9.93" height="9.95" fill="#9090f4"/>
<rect x="176.60" y="367.15" width="9.93" height="9.95" fill="#e00808"/>
<rect x="186.53" y="367.15" width="9.93" height="9.95" fill="#e0e0fa"/>
<rect x="196.46" y="367.15" width="9.93" height="9.95" fill="#7070f0"/>
<line x1="176.60" y1="317.40" x2="206.39" y2="317.40" stroke="#8a8a8a" stroke-width="0.6" />
<line x1="176.60" y1="327.35" x2="206.39" y2="327.35" stroke="#8a8a8a" stroke-width="0.6" />
<line x1="176.60" y1="337.30" x2="206.39" y2="337.30" stroke="#8a8a8a" stroke-width="0.6" />
<line x1="176.60" y1="347.25" x2="206.39" y2="347.25" stroke="#8a8a8a" stroke-width="0.6" />
<line x1="176.60" y1="357.20" x2="206.39" y2="357.20" stroke="#8a8a8a" stroke-width="0.6" />
<line x1="176.60" y1="367.15" x2="206.39" y2="367.15" stroke="#8a8a8a" stroke-width="0.6" />
<line x1="176.60" y1="377.10" x2="206.39" y2="377.10" stroke="#8a8a8a" stroke-width="0.6" />
<line x1="176.60" y1="317.40" x2="176.60" y2="377.10" stroke="#8a8a8a" stroke-width="0.6" />
<line x1="186.53" y1="317.40" x2="186.53" y2="377.10" stroke="#8a8a8a" stroke-width="0.6" />
<line x1="196.46" y1="317.40" x2="196.46" y2="377.10" stroke="#8a8a8a" stroke-width="0.6" />
<line x1="206.39" y1="317.40" x2="206.39" y2="377.10" stroke="#8a8a8a" stroke-width="0.6" />
<text x="66.30" y="283.50" font-size="8.4" textLength="8.30" lengthAdjust="spacingAndGlyphs" transform="rotate(-90 66.30 283.50)">54</text>
<text x="76.30" y="283.50" font-size="8.4" textLength="8.30" lengthAdjust="spacingAndGlyphs" transform="rotate(-90 76.30 283.50)">47</text>
<text x="86.30" y="283.50" font-size="8.4" textLength="8.30" lengthAdjust="spacingAndGlyphs" transform="rotate(-90 86.30 283.50)">50</text>
<text x="96.30" y="283.50" font-size="8.4" textLength="8.30" lengthAdjust="spacingAndGlyphs" transform="rotate(-90 96.30 283.50)">67</text>
<text x="106.30" y="283.50" font-size="8.4" textLength="8.30" lengthAdjust="spacingAndGlyphs" transform="rotate(-90 106.30 283.50)">55</text>
<text x="124.74" y="283.50" font-size="8.4" textLength="8.30" lengthAdjust="spacingAndGlyphs" transform="rotate(-90 124.74 283.50)">44</text>
<text x="134.82" y="283.50" font-size="8.4" textLength="8.30" lengthAdjust="spacingAndGlyphs" transform="rotate(-90 134.82 283.50)">51</text>
<text x="144.90" y="283.50" font-size="8.4" textLength="8.30" lengthAdjust="spacingAndGlyphs" transform="rotate(-90 144.90 283.50)">56</text>
<text x="154.98" y="283.50" font-size="8.4" textLength="8.30" lengthAdjust="spacingAndGlyphs" transform="rotate(-90 154.98 283.50)">58</text>
<text x="165.06" y="283.50" font-size="8.4" textLength="8.30" lengthAdjust="spacingAndGlyphs" transform="rotate(-90 165.06 283.50)">64</text>
<text x="182.87" y="283.50" font-size="8.4" textLength="8.30" lengthAdjust="spacingAndGlyphs" transform="rotate(-90 182.87 283.50)">53</text>
<text x="192.80" y="283.50" font-size="8.4" textLength="8.30" lengthAdjust="spacingAndGlyphs" transform="rotate(-90 192.80 283.50)">59</text>
<text x="202.72" y="283.50" font-size="8.4" textLength="8.30" lengthAdjust="spacingAndGlyphs" transform="rotate(-90 202.72 283.50)">69</text>
<line x1="64.50" y1="267.70" x2="105.50" y2="267.70" stroke="#3a3a3a" stroke-width="1.0" />
<path d="M123.44,268.00 V267.40 H133.52 V268.00" fill="none" stroke="#3a3a3a" stroke-width="0.9"/>
<path d="M128.48,267.40 V266.30 H143.60 V268.00" fill="none" stroke="#3a3a3a" stroke-width="0.9"/>
<path d="M136.04,266.30 V264.70 H153.68 V268.00" fill="none" stroke="#3a3a3a" stroke-width="0.9"/>
<path d="M143.60,264.70 V244.40 H163.76 V268.00" fill="none" stroke="#3a3a3a" stroke-width="0.9"/>
<path d="M191.50,268.00 V262.30 H201.42 V268.00" fill="none" stroke="#3a3a3a" stroke-width="0.9"/>
<path d="M181.56,268.00 V255.00 H196.46 V262.30" fill="none" stroke="#3a3a3a" stroke-width="0.9"/>
<text x="210.60" y="325.27" font-size="8.8" textLength="27.10" lengthAdjust="spacingAndGlyphs">%CD4+</text>
<text x="210.60" y="335.22" font-size="8.8" textLength="22.00" lengthAdjust="spacingAndGlyphs">%Treq</text>
<text x="210.60" y="345.17" font-size="8.8" textLength="22.80" lengthAdjust="spacingAndGlyphs">%Tcon</text>
<text x="210.60" y="355.12" font-size="8.8" textLength="27.10" lengthAdjust="spacingAndGlyphs">%CD8+</text>
<text x="210.60" y="365.07" font-size="8.8" textLength="33.80" lengthAdjust="spacingAndGlyphs">Treg:Tcon</text>
<text x="210.60" y="375.02" font-size="8.8" textLength="38.00" lengthAdjust="spacingAndGlyphs">Treg:CD8+</text>
<text x="73.80" y="390.50" font-size="8.6" textLength="26.20" lengthAdjust="spacingAndGlyphs">CR/PR</text>
<text x="138.50" y="390.50" font-size="8.6" textLength="11.30" lengthAdjust="spacingAndGlyphs">SD</text>
<text x="187.00" y="390.50" font-size="8.6" textLength="10.50" lengthAdjust="spacingAndGlyphs">PD</text>
<text x="384.20" y="233.90" font-size="8.9" textLength="32.70" lengthAdjust="spacingAndGlyphs">Leukemic</text>
<text x="387.80" y="242.90" font-size="8.9" textLength="25.30" lengthAdjust="spacingAndGlyphs">burden</text>
<text x="460.80" y="233.90" font-size="8.9" textLength="28.10" lengthAdjust="spacingAndGlyphs">Immune</text>
<text x="462.80" y="242.40" font-size="8.9" textLength="24.10" lengthAdjust="spacingAndGlyphs">activity</text>
<line x1="361.30" y1="246.20" x2="439.60" y2="246.20" stroke="#4a4a4a" stroke-width="1.3" />
<line x1="449.20" y1="246.20" x2="500.50" y2="246.20" stroke="#4a4a4a" stroke-width="1.3" />
<line x1="358.40" y1="252.60" x2="358.40" y2="282.40" stroke="#231f20" stroke-width="1.1" />
<line x1="355.30" y1="255.82" x2="358.40" y2="255.82" stroke="#231f20" stroke-width="1.0" />
<text x="352.00" y="258.82" font-size="8.8" text-anchor="end" textLength="13.20" lengthAdjust="spacingAndGlyphs">100</text>
<line x1="355.30" y1="268.86" x2="358.40" y2="268.86" stroke="#231f20" stroke-width="1.0" />
<text x="352.00" y="271.86" font-size="8.8" text-anchor="end" textLength="8.80" lengthAdjust="spacingAndGlyphs">75</text>
<line x1="355.30" y1="281.90" x2="358.40" y2="281.90" stroke="#231f20" stroke-width="1.0" />
<text x="352.00" y="284.90" font-size="8.8" text-anchor="end" textLength="8.80" lengthAdjust="spacingAndGlyphs">50</text>
<line x1="358.40" y1="290.00" x2="358.40" y2="352.00" stroke="#231f20" stroke-width="1.1" />
<line x1="355.30" y1="290.51" x2="358.40" y2="290.51" stroke="#231f20" stroke-width="1.0" />
<text x="352.00" y="293.51" font-size="8.8" text-anchor="end" textLength="8.80" lengthAdjust="spacingAndGlyphs">30</text>
<line x1="355.30" y1="310.84" x2="358.40" y2="310.84" stroke="#231f20" stroke-width="1.0" />
<text x="352.00" y="313.84" font-size="8.8" text-anchor="end" textLength="8.80" lengthAdjust="spacingAndGlyphs">20</text>
<line x1="355.30" y1="331.17" x2="358.40" y2="331.17" stroke="#231f20" stroke-width="1.0" />
<text x="352.00" y="334.17" font-size="8.8" text-anchor="end" textLength="8.80" lengthAdjust="spacingAndGlyphs">10</text>
<line x1="355.30" y1="351.50" x2="358.40" y2="351.50" stroke="#231f20" stroke-width="1.0" />
<text x="352.00" y="354.50" font-size="8.8" text-anchor="end" textLength="4.40" lengthAdjust="spacingAndGlyphs">0</text>
<line x1="357.90" y1="351.50" x2="501.50" y2="351.50" stroke="#111" stroke-width="1.3" />
<line x1="372.10" y1="351.50" x2="372.10" y2="354.40" stroke="#231f20" stroke-width="1.0" />
<rect x="362.10" y="290.50" width="4.80" height="61.00" fill="#62a43a"/>
<rect x="362.10" y="261.04" width="4.80" height="20.86" fill="#62a43a"/>
<rect x="369.70" y="290.50" width="4.80" height="61.00" fill="#a0052a"/>
<rect x="369.70" y="269.90" width="4.80" height="12.00" fill="#a0052a"/>
<rect x="377.40" y="350.28" width="4.80" height="1.22" fill="#2a4a85"/>
<line x1="401.10" y1="351.50" x2="401.10" y2="354.40" stroke="#231f20" stroke-width="1.0" />
<rect x="391.10" y="290.50" width="4.80" height="61.00" fill="#62a43a"/>
<rect x="391.10" y="266.36" width="4.80" height="15.54" fill="#62a43a"/>
<rect x="398.70" y="290.50" width="4.80" height="61.00" fill="#a0052a"/>
<rect x="398.70" y="266.36" width="4.80" height="15.54" fill="#a0052a"/>
<rect x="406.40" y="331.78" width="4.80" height="19.72" fill="#2a4a85"/>
<line x1="430.10" y1="351.50" x2="430.10" y2="354.40" stroke="#231f20" stroke-width="1.0" />
<rect x="420.10" y="331.78" width="4.80" height="19.72" fill="#62a43a"/>
<rect x="427.70" y="341.94" width="4.80" height="9.56" fill="#a0052a"/>
<rect x="435.40" y="341.94" width="4.80" height="9.56" fill="#2a4a85"/>
<line x1="459.10" y1="351.50" x2="459.10" y2="354.40" stroke="#231f20" stroke-width="1.0" />
<rect x="449.10" y="341.94" width="4.80" height="9.56" fill="#62a43a"/>
<rect x="456.70" y="311.04" width="4.80" height="40.46" fill="#a0052a"/>
<rect x="464.40" y="341.94" width="4.80" height="9.56" fill="#2a4a85"/>
<line x1="488.10" y1="351.50" x2="488.10" y2="354.40" stroke="#231f20" stroke-width="1.0" />
<rect x="478.10" y="342.55" width="4.80" height="8.95" fill="#62a43a"/>
<rect x="485.70" y="297.22" width="4.80" height="54.28" fill="#a0052a"/>
<rect x="493.40" y="290.50" width="4.80" height="61.00" fill="#2a4a85"/>
<rect x="493.40" y="268.08" width="4.80" height="13.82" fill="#2a4a85"/>
<line x1="444.9" y1="252" x2="444.9" y2="282" stroke="#333" stroke-width="0.9" stroke-dasharray="0.8 0.8"/>
<line x1="444.9" y1="290" x2="444.9" y2="351" stroke="#333" stroke-width="0.9" stroke-dasharray="0.8 0.8"/>
<text x="321.00" y="343.20" font-size="9.6" textLength="82.00" lengthAdjust="spacingAndGlyphs" transform="rotate(-90 321.00 343.20)">Percent of bone marrow</text>
<text x="331.70" y="343.40" font-size="9.4" textLength="82.40" lengthAdjust="spacingAndGlyphs" transform="rotate(-90 331.70 343.40)">(% metaphases or cells)</text>
<text x="373.40" y="363.00" font-size="8.6" text-anchor="end" textLength="37.00" lengthAdjust="spacingAndGlyphs" transform="rotate(-45 373.40 363.00)">Trisomy 21</text>
<text x="405.10" y="360.50" font-size="8.6" text-anchor="end" textLength="40.00" lengthAdjust="spacingAndGlyphs" transform="rotate(-45 405.10 360.50)">Cellularity</text>
<text x="434.10" y="360.50" font-size="8.6" text-anchor="end" textLength="23.00" lengthAdjust="spacingAndGlyphs" transform="rotate(-45 434.10 360.50)">Blasts</text>
<text x="463.10" y="360.50" font-size="8.6" text-anchor="end" textLength="46.00" lengthAdjust="spacingAndGlyphs" transform="rotate(-45 463.10 360.50)">CD3+CD8+</text>
<text x="492.10" y="360.50" font-size="8.6" text-anchor="end" textLength="44.00" lengthAdjust="spacingAndGlyphs" transform="rotate(-45 492.10 360.50)">Donor cells</text>
<text x="388.10" y="410.10" font-size="8.2" textLength="72.20" lengthAdjust="spacingAndGlyphs">Days after anti-PD-1:</text>
<rect x="388.10" y="416.50" width="10.00" height="5.00" fill="#62a43a"/>
<text x="400.80" y="421.90" font-size="8.2" textLength="4.10" lengthAdjust="spacingAndGlyphs">0</text>
<rect x="414.60" y="416.50" width="10.00" height="5.00" fill="#a0052a"/>
<text x="428.00" y="421.90" font-size="8.2" textLength="8.00" lengthAdjust="spacingAndGlyphs">75</text>
<rect x="445.80" y="416.50" width="10.00" height="5.00" fill="#2a4a85"/>
<text x="459.60" y="421.90" font-size="8.2" textLength="12.30" lengthAdjust="spacingAndGlyphs">112</text>
<line x1="58.50" y1="433.80" x2="58.50" y2="541.80" stroke="#231f20" stroke-width="1.1" />
<line x1="55.50" y1="541.30" x2="226.00" y2="541.30" stroke="#231f20" stroke-width="1.1" />
<line x1="55.50" y1="541.30" x2="58.50" y2="541.30" stroke="#231f20" stroke-width="1.0" />
<text x="52.30" y="544.40" font-size="8.9" text-anchor="end" textLength="4.40" lengthAdjust="spacingAndGlyphs">0</text>
<line x1="55.50" y1="514.99" x2="58.50" y2="514.99" stroke="#231f20" stroke-width="1.0" />
<text x="52.30" y="518.09" font-size="8.9" text-anchor="end" textLength="8.80" lengthAdjust="spacingAndGlyphs">20</text>
<line x1="55.50" y1="488.68" x2="58.50" y2="488.68" stroke="#231f20" stroke-width="1.0" />
<text x="52.30" y="491.78" font-size="8.9" text-anchor="end" textLength="8.80" lengthAdjust="spacingAndGlyphs">40</text>
<line x1="55.50" y1="462.37" x2="58.50" y2="462.37" stroke="#231f20" stroke-width="1.0" />
<text x="52.30" y="465.47" font-size="8.9" text-anchor="end" textLength="8.80" lengthAdjust="spacingAndGlyphs">60</text>
<line x1="55.50" y1="436.06" x2="58.50" y2="436.06" stroke="#231f20" stroke-width="1.0" />
<text x="52.30" y="439.16" font-size="8.9" text-anchor="end" textLength="8.80" lengthAdjust="spacingAndGlyphs">80</text>
<line x1="113.60" y1="541.30" x2="113.60" y2="544.30" stroke="#231f20" stroke-width="1.0" />
<text x="113.90" y="555.00" font-size="8.8" text-anchor="middle" textLength="13.40" lengthAdjust="spacingAndGlyphs">200</text>
<line x1="168.70" y1="541.30" x2="168.70" y2="544.30" stroke="#231f20" stroke-width="1.0" />
<text x="169.00" y="555.00" font-size="8.8" text-anchor="middle" textLength="13.40" lengthAdjust="spacingAndGlyphs">400</text>
<line x1="223.80" y1="541.30" x2="223.80" y2="544.30" stroke="#231f20" stroke-width="1.0" />
<text x="224.10" y="555.00" font-size="8.8" text-anchor="middle" textLength="13.40" lengthAdjust="spacingAndGlyphs">600</text>
<text x="58.40" y="555.00" font-size="8.8" text-anchor="middle" textLength="4.40" lengthAdjust="spacingAndGlyphs">0</text>
<line x1="62.00" y1="546.50" x2="62.00" y2="557.00" stroke="#231f20" stroke-width="0.9" />
<path d="M60.50,548.60 L62.00,545.20 L63.50,548.60Z" fill="#231f20"/>
<line x1="105.20" y1="546.50" x2="105.20" y2="557.00" stroke="#231f20" stroke-width="0.9" />
<path d="M103.70,548.60 L105.20,545.20 L106.70,548.60Z" fill="#231f20"/>
<line x1="134.80" y1="546.50" x2="134.80" y2="557.00" stroke="#231f20" stroke-width="0.9" />
<path d="M133.30,548.60 L134.80,545.20 L136.30,548.60Z" fill="#231f20"/>
<line x1="184.60" y1="546.50" x2="184.60" y2="557.00" stroke="#231f20" stroke-width="0.9" />
<path d="M183.10,548.60 L184.60,545.20 L186.10,548.60Z" fill="#231f20"/>
<text x="45.70" y="567.60" font-size="8.6" textLength="33.30" lengthAdjust="spacingAndGlyphs" font-style="italic">Diagnosis</text>
<text x="87.60" y="567.60" font-size="8.6" textLength="36.30" lengthAdjust="spacingAndGlyphs" font-style="italic">after HMA</text>
<text x="129.60" y="567.60" font-size="8.6" textLength="23.70" lengthAdjust="spacingAndGlyphs" font-style="italic">PBSCT</text>
<text x="168.10" y="567.60" font-size="8.6" textLength="32.40" lengthAdjust="spacingAndGlyphs" font-style="italic">anti-PD-1</text>
<text x="108.00" y="580.70" font-size="9.8" textLength="68.60" lengthAdjust="spacingAndGlyphs">Days after diagnosis</text>
<text x="36.60" y="541.00" font-size="9.4" textLength="107.40" lengthAdjust="spacingAndGlyphs" transform="rotate(-90 36.60 541.00)">Variant allele fraction (% reads)</text>
<polyline points="61.50,536.50 107.30,541.30 205.70,541.30" fill="none" stroke="#6cb840" stroke-width="1.6" stroke-linejoin="round" />
<circle cx="61.50" cy="536.50" r="2.0" fill="#6cb840"/>
<circle cx="107.30" cy="541.30" r="2.0" fill="#6cb840"/>
<circle cx="205.70" cy="541.30" r="2.0" fill="#6cb840"/>
<polyline points="61.50,541.30 107.30,525.10 205.70,523.70 213.20,541.30" fill="none" stroke="#b3143c" stroke-width="1.6" stroke-linejoin="round" />
<circle cx="61.50" cy="541.30" r="2.0" fill="#b3143c"/>
<circle cx="107.30" cy="525.10" r="2.0" fill="#b3143c"/>
<circle cx="205.70" cy="523.70" r="2.0" fill="#b3143c"/>
<circle cx="213.20" cy="541.30" r="2.0" fill="#b3143c"/>
<polyline points="61.50,506.20 107.30,504.70 205.70,525.30 213.20,541.30" fill="none" stroke="#2c5494" stroke-width="1.6" stroke-linejoin="round" />
<circle cx="61.50" cy="506.20" r="2.0" fill="#2c5494"/>
<circle cx="107.30" cy="504.70" r="2.0" fill="#2c5494"/>
<circle cx="205.70" cy="525.30" r="2.0" fill="#2c5494"/>
<circle cx="213.20" cy="541.30" r="2.0" fill="#2c5494"/>
<polyline points="205.50,510.40 213.20,481.50" fill="none" stroke="#e9950f" stroke-width="1.6" stroke-linejoin="round" />
<circle cx="205.50" cy="510.40" r="2.0" fill="#e9950f"/>
<circle cx="213.20" cy="481.50" r="2.0" fill="#e9950f"/>
<polyline points="61.50,463.20 107.30,460.70 205.70,486.30 213.20,533.30" fill="none" stroke="#50237a" stroke-width="1.6" stroke-linejoin="round" />
<circle cx="61.50" cy="463.20" r="2.0" fill="#50237a"/>
<circle cx="107.30" cy="460.70" r="2.0" fill="#50237a"/>
<circle cx="205.70" cy="486.30" r="2.0" fill="#50237a"/>
<circle cx="213.20" cy="533.30" r="2.0" fill="#50237a"/>
<line x1="145.40" y1="426.80" x2="153.20" y2="426.80" stroke="#50237a" stroke-width="1.4" />
<circle cx="149.3" cy="426.80" r="1.3" fill="#50237a"/>
<text x="156.90" y="429.50" font-size="7.9" textLength="54.80" lengthAdjust="spacingAndGlyphs">RUNX1 (Q213*)</text>
<line x1="145.40" y1="436.70" x2="153.20" y2="436.70" stroke="#2c5494" stroke-width="1.4" />
<circle cx="149.3" cy="436.70" r="1.3" fill="#2c5494"/>
<text x="156.90" y="439.40" font-size="7.9" textLength="64.40" lengthAdjust="spacingAndGlyphs">ASXL1 (E635fs*15)</text>
<line x1="145.40" y1="446.60" x2="153.20" y2="446.60" stroke="#b3143c" stroke-width="1.4" />
<circle cx="149.3" cy="446.60" r="1.3" fill="#b3143c"/>
<text x="156.90" y="449.30" font-size="7.9" textLength="46.10" lengthAdjust="spacingAndGlyphs">NRAS (G13V)</text>
<line x1="145.40" y1="456.50" x2="153.20" y2="456.50" stroke="#6cb840" stroke-width="1.4" />
<circle cx="149.3" cy="456.50" r="1.3" fill="#6cb840"/>
<text x="156.90" y="459.20" font-size="7.9" textLength="50.00" lengthAdjust="spacingAndGlyphs">KRAS (K117N)</text>
<line x1="145.40" y1="466.40" x2="153.20" y2="466.40" stroke="#e9950f" stroke-width="1.4" />
<circle cx="149.3" cy="466.40" r="1.3" fill="#e9950f"/>
<text x="156.90" y="469.10" font-size="7.9" textLength="39.40" lengthAdjust="spacingAndGlyphs">Donor SNV</text>
<rect x="0" y="0" width="520" height="1" fill="#000"/><rect x="0" y="0" width="1" height="591" fill="#000"/><rect x="518.6" y="0" width="1.4" height="591" fill="#000"/><rect x="0" y="589.5" width="520" height="1.5" fill="#000"/>
</svg>
</body></html>
